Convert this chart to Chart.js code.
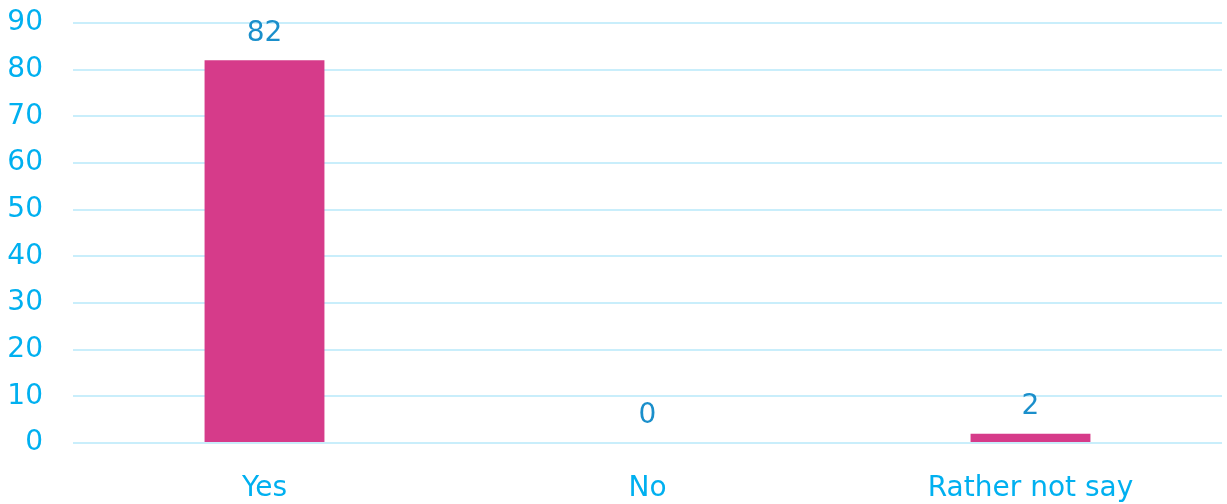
<!DOCTYPE html>
<html><head><meta charset="utf-8">
<script src="https://cdn.jsdelivr.net/npm/chart.js@4"></script>
<style>html,body{margin:0;padding:0;background:#fff}#wrap{width:1227px;height:504px}</style>
</head><body><div id="wrap"><canvas id="c" width="1227" height="504"></canvas></div>
<script>
const categories = ["Yes", "No", "Rather not say"];
const values = [82, 0, 2];
const yTicks = [0, 10, 20, 30, 40, 50, 60, 70, 80, 90];

const FONT = "'DejaVu Sans', Tahoma, sans-serif";
const valueLabels = {
  id: 'valueLabels',
  afterDatasetsDraw(chart) {
    const ctx = chart.ctx;
    const meta = chart.getDatasetMeta(0);
    ctx.save();
    ctx.font = "28px " + FONT;
    ctx.fillStyle = "#1A8FCB";
    ctx.textAlign = "center";
    ctx.textBaseline = "bottom";
    meta.data.forEach((bar, i) => {
      ctx.fillText(String(values[i]), bar.x, bar.y - 13);
    });
    ctx.restore();
  }
};

new Chart(document.getElementById('c'), {
  type: 'bar',
  data: {
    labels: categories,
    datasets: [{
      data: values,
      backgroundColor: '#D63B8A',
      barPercentage: 1,
      categoryPercentage: 0.313
    }]
  },
  options: {
    responsive: false,
    animation: false,
    layout: { padding: { top: 23, right: 5, left: 0, bottom: 0 } },
    plugins: { legend: { display: false }, tooltip: { enabled: false } },
    scales: {
      x: {
        grid: { display: false },
        border: { display: false },
        ticks: { color: '#00B0F0', font: { family: FONT, size: 28 }, padding: 21 },
        afterFit(s) { s.height = 61; s.paddingLeft = 0; s.paddingRight = 0; }
      },
      y: {
        min: 0, max: 90,
        afterBuildTicks(s) { s.ticks = yTicks.map(v => ({ value: v })); },
        grid: { color: '#C9EEFB', lineWidth: 2, drawTicks: false },
        border: { display: false },
        ticks: { color: '#00B0F0', font: { family: FONT, size: 28 }, padding: 30 },
        afterFit(s) { s.width = 73; s.paddingTop = 0; s.paddingBottom = 0; }
      }
    }
  },
  plugins: [valueLabels]
});
</script></body></html>
